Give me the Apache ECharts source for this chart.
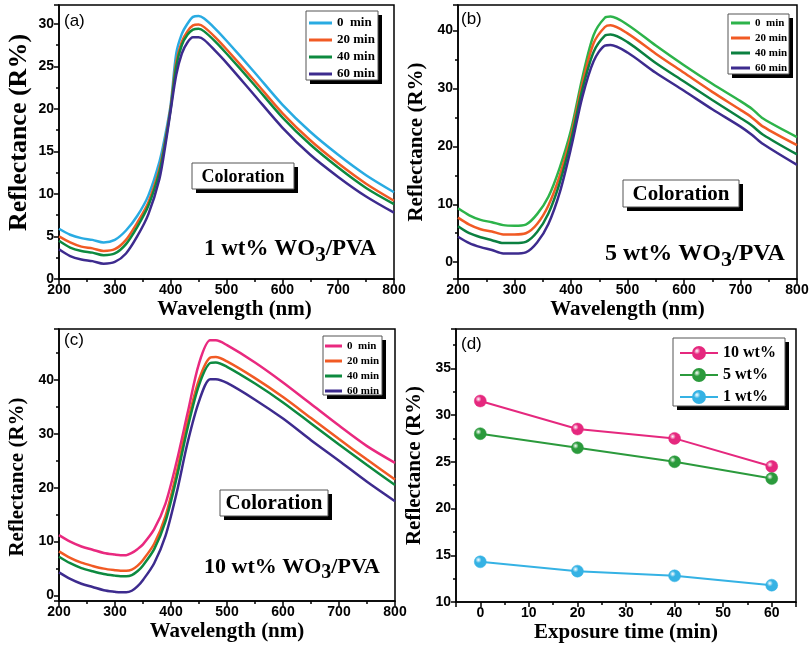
<!DOCTYPE html>
<html>
<head>
<meta charset="utf-8">
<script src="https://cdn.jsdelivr.net/npm/echarts@6/dist/echarts.min.js"></script>
<style>
  html, body { margin: 0; padding: 0; background: #fff; }
  #chart { width: 812px; height: 646px; }
</style>
</head>
<body>
<div id="chart"></div>
<script>
// panel (a) 1 wt% WO3/PVA
var wlA = [200, 220, 240, 260, 280, 300, 320, 340, 360, 380, 390, 400, 410, 420, 430, 440, 450, 460, 480, 500, 550, 600, 650, 700, 750, 800];
var a0  = [5.9, 5.2, 4.8, 4.6, 4.3, 4.6, 5.7, 7.4, 9.8, 13.8, 16.8, 20.5, 26.5, 28.8, 30.0, 30.8, 30.9, 30.6, 29.4, 28.0, 24.3, 20.5, 17.3, 14.6, 12.2, 10.2];
var a20 = [5.0, 4.3, 3.8, 3.6, 3.3, 3.5, 4.6, 6.6, 9.0, 13.0, 16.2, 20.2, 25.5, 27.9, 29.1, 29.8, 29.9, 29.6, 28.4, 27.0, 23.3, 19.5, 16.3, 13.6, 11.2, 9.2];
var a40 = [4.5, 3.7, 3.3, 3.1, 2.8, 3.0, 4.1, 6.1, 8.6, 12.6, 16.0, 20.0, 25.0, 27.5, 28.7, 29.3, 29.4, 29.1, 27.9, 26.5, 22.8, 19.0, 15.8, 13.1, 10.7, 8.8];
var a60 = [3.5, 2.7, 2.3, 2.1, 1.8, 2.0, 3.0, 5.0, 7.6, 11.8, 15.5, 19.8, 24.0, 26.5, 27.8, 28.4, 28.4, 28.1, 26.8, 25.4, 21.6, 17.8, 14.6, 12.0, 9.7, 7.8];

// panel (b) 5 wt% WO3/PVA
var wlB = [200, 220, 240, 260, 280, 300, 320, 340, 360, 380, 400, 420, 440, 460, 470, 500, 550, 600, 650, 700, 720, 740, 800];
var b0  = [9.3, 8.1, 7.3, 6.9, 6.4, 6.3, 6.5, 8.3, 11.3, 16.3, 22.8, 31.8, 39.2, 42.2, 42.4, 41.0, 37.4, 34.0, 30.8, 27.8, 26.5, 24.8, 21.6];
var b20 = [7.7, 6.5, 5.7, 5.3, 4.8, 4.8, 5.0, 6.6, 9.8, 14.9, 21.8, 30.8, 37.8, 40.6, 40.9, 39.5, 36.0, 32.7, 29.4, 26.3, 25.0, 23.4, 20.2];
var b40 = [6.2, 5.0, 4.3, 3.8, 3.3, 3.3, 3.5, 5.2, 8.4, 13.7, 21.0, 29.8, 36.3, 39.1, 39.3, 38.0, 34.4, 31.2, 28.0, 24.9, 23.6, 22.0, 18.6];
var b60 = [4.4, 3.3, 2.6, 2.1, 1.5, 1.5, 1.7, 3.4, 6.6, 12.0, 19.7, 28.5, 34.7, 37.4, 37.5, 36.2, 32.7, 29.6, 26.4, 23.4, 22.0, 20.4, 16.8];

// panel (c) 10 wt% WO3/PVA
var wlC = [200, 220, 240, 260, 280, 300, 310, 320, 330, 340, 350, 370, 390, 410, 430, 450, 470, 480, 500, 550, 600, 650, 700, 750, 800];
var c0  = [11.2, 10.0, 9.1, 8.5, 7.9, 7.6, 7.5, 7.5, 7.9, 8.6, 9.5, 12.3, 17.0, 24.8, 34.0, 43.0, 47.3, 47.3, 46.4, 43.2, 39.5, 35.5, 31.5, 27.7, 24.6];
var c20 = [8.2, 7.0, 6.1, 5.5, 5.0, 4.7, 4.6, 4.6, 4.8, 5.5, 6.6, 9.6, 14.7, 22.8, 32.2, 40.0, 44.1, 44.2, 43.4, 40.3, 36.8, 32.9, 29.0, 25.2, 21.5];
var c40 = [7.2, 6.0, 5.1, 4.5, 4.0, 3.7, 3.6, 3.6, 3.8, 4.5, 5.6, 8.6, 13.7, 21.8, 31.2, 39.0, 43.1, 43.2, 42.4, 39.3, 35.8, 31.9, 28.0, 24.2, 20.5];
var c60 = [4.3, 3.1, 2.2, 1.6, 1.0, 0.7, 0.6, 0.6, 0.9, 1.7, 2.9, 6.0, 11.0, 19.0, 28.5, 36.0, 40.1, 40.1, 39.4, 36.3, 32.8, 28.8, 25.0, 21.1, 17.5];

// panel (d) reflectance vs exposure time
var times = [0, 20, 40, 60];
var d10 = [31.5, 28.5, 27.5, 24.5];
var d5  = [28.0, 26.5, 25.0, 23.2];
var d1  = [14.3, 13.3, 12.8, 11.8];

var minNames = ['0  min', '20 min', '40 min', '60 min'];
var wtNames = ['10 wt%', '5 wt%', '1 wt%'];

var SERIF = 'Liberation Serif';
var SANS = 'Liberation Sans';

function pairs(xs, ys) {
    return xs.map(function(x, i) { return [x, ys[i]]; });
}

function xAx(idx, min, max, interval, name, namePad) {
    var ax = {
        type: 'value', gridIndex: idx, min: min, max: max,
        axisLine: { onZero: false, lineStyle: { color: '#000', width: 1.5 } },
        axisTick: { length: 5, lineStyle: { color: '#000', width: 1.5 } },
        minorTick: { show: true, splitNumber: 2, length: 3, lineStyle: { color: '#000', width: 1.5 } },
        splitLine: { show: false },
        axisLabel: { color: '#000', fontFamily: SANS, fontWeight: 'bold', fontSize: 14, margin: 4,
                     showMinLabel: interval ? true : false, showMaxLabel: interval ? true : false },
        name: name, nameLocation: 'middle', nameGap: 20,
        nameTextStyle: { color: '#000', fontFamily: SERIF, fontWeight: 'bold', fontSize: 21, padding: namePad }
    };
    if (interval) ax.interval = interval;
    return ax;
}

function yAx(idx, min, max, nameGap, showMin, nameSize, namePad) {
    return {
        type: 'value', gridIndex: idx, min: min, max: max,
        axisLine: { onZero: false, lineStyle: { color: '#000', width: 1.5 } },
        axisTick: { length: 5, lineStyle: { color: '#000', width: 1.5 } },
        minorTick: { show: true, splitNumber: 2, length: 3, lineStyle: { color: '#000', width: 1.5 } },
        splitLine: { show: false },
        axisLabel: { color: '#000', fontFamily: SANS, fontWeight: 'bold', fontSize: 14, margin: 5,
                     showMinLabel: showMin, showMaxLabel: false },
        name: 'Reflectance (R%)', nameLocation: 'middle', nameGap: nameGap,
        nameTextStyle: { color: '#000', fontFamily: SERIF, fontWeight: 'bold', fontSize: nameSize, padding: namePad }
    };
}

// series names carry a panel prefix so each legend picks its own colours
function spectra(idx, prefix, wl, sets, colors) {
    return sets.map(function(ys, i) {
        return {
            type: 'line', name: prefix + '|' + minNames[i], xAxisIndex: idx, yAxisIndex: idx,
            data: pairs(wl, ys), symbol: 'none', smooth: 0.3,
            lineStyle: { color: colors[i], width: 2.5 }, itemStyle: { color: colors[i] }
        };
    });
}

function ball(c) {
    return new echarts.graphic.RadialGradient(0.35, 0.35, 0.7, [
        { offset: 0, color: '#ffffff' }, { offset: 0.35, color: c }, { offset: 1, color: c }
    ]);
}

function legendBox(prefix, left, top, names, fontSize, lh, iw, ih, gap, icon) {
    var lg = {
        left: left, top: top, orient: 'vertical', padding: 0, z: 6,
        data: names.map(function(n) { return prefix + '|' + n; }),
        formatter: function(n) { return n.split('|')[1]; },
        itemWidth: iw, itemHeight: ih, itemGap: gap,
        textStyle: { color: '#000', fontFamily: SERIF, fontWeight: 'bold', fontSize: fontSize, lineHeight: lh },
        selectedMode: false
    };
    if (icon) lg.icon = icon;
    return lg;
}

// white framed box with a hard black drop shadow
function shadowBox(x, y, w, h, z) {
    return [
        { type: 'rect', z: z, shape: { x: x + 4, y: y + 4, width: w, height: h }, style: { fill: '#000' } },
        { type: 'rect', z: z, shape: { x: x, y: y, width: w, height: h },
          style: { fill: '#fff', stroke: '#555', lineWidth: 1 } }
    ];
}

function colorationBox(x, y, w, h, size) {
    return shadowBox(x, y, w, h, 10).concat([
        { type: 'text', z: 11, x: x + w / 2, y: y + h / 2 + 1,
          style: { text: 'Coloration', fill: '#000', font: 'bold ' + size + 'px "Liberation Serif"',
                   align: 'center', verticalAlign: 'middle', textAlign: 'center', textVerticalAlign: 'middle' } }
    ]);
}

function panelLabel(text, left, top) {
    return { text: text, left: left, top: top, padding: 0,
             textStyle: { color: '#000', fontFamily: SANS, fontWeight: 'normal', fontSize: 17 } };
}

function sample(prefix, left, top, size) {
    return {
        text: prefix + ' wt% WO{s|3}/PVA', left: left, top: top, padding: 0,
        textStyle: {
            color: '#000', fontFamily: SERIF, fontWeight: 'bold', fontSize: size, lineHeight: size + 4,
            rich: { s: { color: '#000', fontFamily: SERIF, fontWeight: 'bold', fontSize: size - 2, padding: [12, 0, 0, 0] } }
        }
    };
}

var chart = echarts.init(document.getElementById('chart'));

var option = {
    backgroundColor: '#fff',
    animation: false,
    grid: [
        { left: 59, top: 5, width: 335, height: 274 },
        { left: 458, top: 5, width: 339, height: 274 },
        { left: 59, top: 329, width: 336, height: 272 },
        { left: 456, top: 329, width: 340, height: 273 }
    ].map(function(g) {
        g.show = true; g.borderColor = '#000'; g.borderWidth = 1.5; g.containLabel = false;
        return g;
    }),
    xAxis: [
        xAx(0, 200, 800, 100, 'Wavelength (nm)', [0, 0, 0, 16]),
        xAx(1, 200, 800, 100, 'Wavelength (nm)', 0),
        xAx(2, 200, 800, 100, 'Wavelength (nm)', 0),
        xAx(3, -5, 65, null, 'Exposure time (min)', 0)
    ],
    yAxis: [
        yAx(0, 0, 32.2, 27, true, 26, [0, 0, 0, 19]),
        yAx(1, -2.9, 44.4, 31, false, 21, 0),
        yAx(2, -1, 49.4, 31, false, 21, [0, 24, 0, 0]),
        yAx(3, 10, 39.2, 31, true, 21, 0)
    ],
    legend: [
        legendBox('a', 309, 15, minNames, 13, 16, 23, 3, 1, 'rect'),
        legendBox('b', 731, 16, minNames, 11, 14, 19, 3, 1, 'rect'),
        legendBox('c', 325, 339, minNames, 11, 14, 17, 3, 1, 'rect'),
        legendBox('d', 679, 344, wtNames, 16, 18, 38, 15, 4)
    ],
    title: [
        panelLabel('(a)', 64, 13),
        panelLabel('(b)', 461, 11),
        panelLabel('(c)', 64, 332),
        panelLabel('(d)', 461, 336),
        sample('1', 204, 236, 23),
        sample('5', 605, 240, 24),
        sample('10', 204, 554, 22)
    ],
    graphic: [].concat(
        shadowBox(306, 11, 72, 69, 3),
        shadowBox(728, 14, 61, 60, 3),
        shadowBox(323, 336, 59, 59, 3),
        shadowBox(673, 338, 112, 68, 3),
        colorationBox(192, 163, 102, 26, 18),
        colorationBox(623, 180, 116, 27, 21),
        colorationBox(220, 490, 108, 26, 21)
    ),
    series: [].concat(
        spectra(0, 'a', wlA, [a0, a20, a40, a60], ['#29abe2', '#f15a24', '#0d8a3f', '#3d2b8e']),
        spectra(1, 'b', wlB, [b0, b20, b40, b60], ['#2db34a', '#f15a24', '#0b8040', '#3d2b8e']),
        spectra(2, 'c', wlC, [c0, c20, c40, c60], ['#e9297f', '#f15a24', '#0d8a3f', '#3d2b8e']),
        [[d10, '#e5287e'], [d5, '#2b9a3c'], [d1, '#35b2e4']].map(function(s, i) {
            return {
                type: 'line', name: 'd|' + wtNames[i], xAxisIndex: 3, yAxisIndex: 3,
                data: pairs(times, s[0]), symbol: 'circle', symbolSize: 12,
                lineStyle: { color: s[1], width: 2 },
                itemStyle: { color: ball(s[1]), borderColor: s[1], borderWidth: 0.5 }
            };
        })
    )
};

chart.setOption(option);
</script>
</body>
</html>
